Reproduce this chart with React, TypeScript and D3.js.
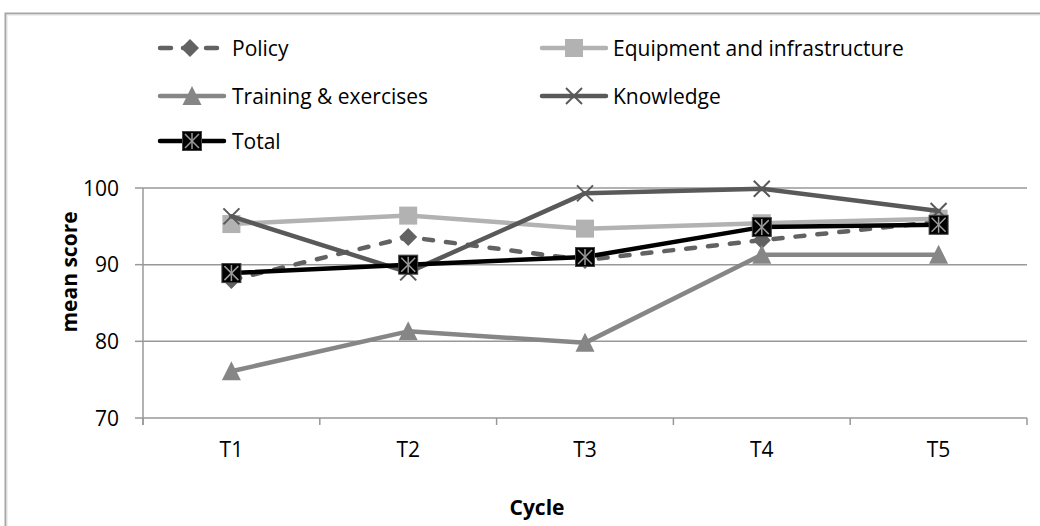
import React from "react";
import * as d3 from "d3";

const categories = ["T1", "T2", "T3", "T4", "T5"];
const policy = [88.0, 93.6, 90.6, 93.2, 95.6];
const equipment = [95.3, 96.4, 94.7, 95.4, 96.0];
const training = [76.1, 81.3, 79.8, 91.3, 91.3];
const knowledge = [96.3, 89.0, 99.3, 99.9, 97.0];
const total = [88.9, 90.0, 91.0, 94.9, 95.2];
const yTicks = [70, 80, 90, 100];

const FONT = "'Open Sans', 'Noto Sans', sans-serif";
const FS = 21;

type Marker = "diamond" | "square" | "triangle" | "x" | "total";

const seriesList: { name: string; values: number[]; color: string; dash?: string; marker: Marker; width: number }[] = [
  { name: "Policy", values: policy, color: "#626262", dash: "9,13", marker: "diamond", width: 4.5 },
  { name: "Equipment and infrastructure", values: equipment, color: "#b2b2b2", marker: "square", width: 4.5 },
  { name: "Training & exercises", values: training, color: "#868686", marker: "triangle", width: 4.5 },
  { name: "Knowledge", values: knowledge, color: "#595959", marker: "x", width: 4.5 },
  { name: "Total", values: total, color: "#000000", marker: "total", width: 4.5 },
];

function MarkerShape({ type, x, y, color }: { type: Marker; x: number; y: number; color: string }) {
  if (type === "diamond") {
    const r = 9;
    return <path d={`M${x},${y - r}L${x + r},${y}L${x},${y + r}L${x - r},${y}Z`} fill={color} />;
  }
  if (type === "square") {
    const s = 18;
    return <rect x={x - s / 2} y={y - s / 2} width={s} height={s} fill={color} />;
  }
  if (type === "triangle") {
    const w = 19, h = 18;
    return <path d={`M${x},${y - h / 2 - 1}L${x + w / 2},${y + h / 2}L${x - w / 2},${y + h / 2}Z`} fill={color} />;
  }
  if (type === "x") {
    const r = 8;
    return (
      <g stroke={color} strokeWidth={2}>
        <line x1={x - r} y1={y - r} x2={x + r} y2={y + r} />
        <line x1={x - r} y1={y + r} x2={x + r} y2={y - r} />
      </g>
    );
  }
  const s = 19;
  const r = 7;
  return (
    <g>
      <rect x={x - s / 2} y={y - s / 2} width={s} height={s} fill="#000" stroke="#444" strokeWidth={1} />
      <g stroke="#9a9a9a" strokeWidth={1.5}>
        <line x1={x - r} y1={y - r} x2={x + r} y2={y + r} />
        <line x1={x - r} y1={y + r} x2={x + r} y2={y - r} />
        <line x1={x} y1={y - r - 1} x2={x} y2={y + r + 1} />
      </g>
    </g>
  );
}

export default function App() {
  const W = 1040, H = 526;
  const left = 143, right = 1027, top = 188, bottom = 418;
  const x = d3.scaleBand<string>().domain(categories).range([left, right]);
  const y = d3.scaleLinear().domain([70, 100]).range([bottom, top]);
  const cx = (c: string) => (x(c) as number) + x.bandwidth() / 2;
  const line = d3
    .line<number>()
    .x((_, i) => cx(categories[i]))
    .y((d) => y(d));

  const legendItems = [
    { s: seriesList[0], lx: 158, ly: 48, tx: 232, len: 64 },
    { s: seriesList[1], lx: 540, ly: 48, tx: 613, len: 68 },
    { s: seriesList[2], lx: 158, ly: 96, tx: 232, len: 68 },
    { s: seriesList[3], lx: 540, ly: 96, tx: 613, len: 68 },
    { s: seriesList[4], lx: 158, ly: 141, tx: 232, len: 68 },
  ];

  const boundaries = [left, ...categories.map((c) => (x(c) as number) + x.bandwidth())];

  return (
    <svg width={W} height={H} style={{ position: "absolute", left: 0, top: 0, background: "#fff" }}>
      <rect x={0} y={0} width={W} height={H} fill="#fff" />
      <rect x={5.5} y={13.5} width={1200} height={700} fill="none" stroke="#a6a6a6" strokeWidth={2} />
      <rect x={7} y={15} width={1200} height={700} fill="none" stroke="#e0e0e0" strokeWidth={1} />

      {/* gridlines */}
      {yTicks.map((t) => (
        <g key={t}>
          <line x1={left} x2={right} y1={y(t)} y2={y(t)} stroke="#989898" strokeWidth={1.5} />
          <line x1={left - 8} x2={left} y1={y(t)} y2={y(t)} stroke="#989898" strokeWidth={1.5} />
          <text x={119} y={y(t)} dy="0.36em" textAnchor="end" fontFamily={FONT} fontSize={FS} fill="#000">
            {t}
          </text>
        </g>
      ))}
      <line x1={left} x2={left} y1={top} y2={bottom + 7} stroke="#989898" strokeWidth={1.5} />
      {boundaries.map((b, i) => (
        <line key={i} x1={b} x2={b} y1={bottom} y2={bottom + 7} stroke="#989898" strokeWidth={1.5} />
      ))}
      {categories.map((c) => (
        <text key={c} x={cx(c)} y={457} textAnchor="middle" fontFamily={FONT} fontSize={FS} fill="#000">
          {c}
        </text>
      ))}

      <text
        transform={`translate(77, ${272}) rotate(-90)`}
        textAnchor="middle"
        fontFamily={FONT}
        fontSize={FS}
        fontWeight="bold"
        fill="#000"
      >
        mean score
      </text>
      <text x={537} y={515} textAnchor="middle" fontFamily={FONT} fontSize={FS} fontWeight="bold" fill="#000">
        Cycle
      </text>

      {/* series */}
      {seriesList.map((s) => (
        <g key={s.name}>
          <path
            d={line(s.values) as string}
            fill="none"
            stroke={s.color}
            strokeWidth={s.width}
            strokeDasharray={s.dash}
            strokeLinecap="round"
            strokeLinejoin="round"
          />
          {s.values.map((v, i) => (
            <MarkerShape key={i} type={s.marker} x={cx(categories[i])} y={y(v)} color={s.color} />
          ))}
        </g>
      ))}

      {/* legend */}
      {legendItems.map(({ s, lx, ly, tx, len }) => (
        <g key={s.name}>
          <line
            x1={lx + 2}
            x2={lx + len - 2}
            y1={ly}
            y2={ly}
            stroke={s.color}
            strokeWidth={s.width}
            strokeDasharray={s.dash ? "11,12" : undefined}
            strokeLinecap="round"
          />
          <MarkerShape type={s.marker} x={lx + len / 2} y={ly} color={s.color} />
          <text x={tx} y={ly} dy="0.36em" fontFamily={FONT} fontSize={FS} fill="#000">
            {s.name}
          </text>
        </g>
      ))}
    </svg>
  );
}
